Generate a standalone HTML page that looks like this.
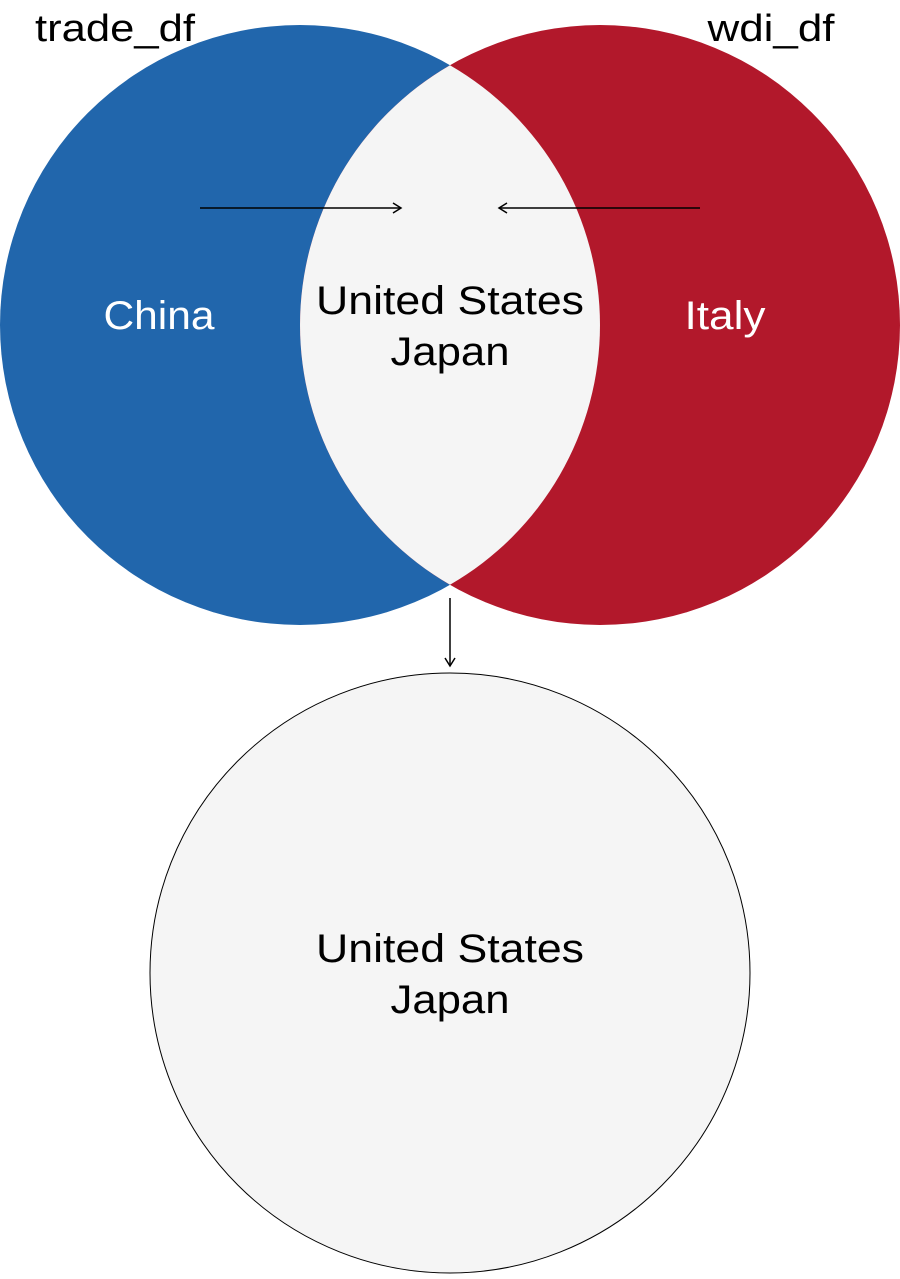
<!DOCTYPE html>
<html><head><meta charset="utf-8"><style>
html,body{margin:0;padding:0;background:#fff;}
svg text{font-family:"Liberation Sans",sans-serif;}
</style></head><body>
<svg width="900" height="1274" viewBox="0 0 900 1274">
<defs>
<marker id="ah" markerWidth="12" markerHeight="12" refX="10" refY="6" orient="auto" markerUnits="userSpaceOnUse">
<path d="M2,1 L10,6 L2,11" fill="none" stroke="#000" stroke-width="1.5"/>
</marker>
</defs>
<circle cx="300" cy="325" r="300" fill="#2166ac"/>
<circle cx="600" cy="325" r="300" fill="#b2182b"/>
<path d="M450,65.2 A300,300 0 0 1 450,584.8 A300,300 0 0 1 450,65.2 Z" fill="#f5f5f5"/>
<text x="115" y="41" font-size="38" text-anchor="middle" textLength="160" lengthAdjust="spacingAndGlyphs" fill="#000">trade_df</text>
<text x="771" y="41" font-size="38" text-anchor="middle" textLength="127" lengthAdjust="spacingAndGlyphs" fill="#000">wdi_df</text>
<line x1="200" y1="208" x2="401" y2="208" stroke="#000" stroke-width="1.5" marker-end="url(#ah)"/>
<line x1="700" y1="208" x2="499" y2="208" stroke="#000" stroke-width="1.5" marker-end="url(#ah)"/>
<text x="159" y="329" font-size="40" text-anchor="middle" textLength="111" lengthAdjust="spacingAndGlyphs" fill="#fff">China</text>
<text x="725" y="329" font-size="40" text-anchor="middle" textLength="81" lengthAdjust="spacingAndGlyphs" fill="#fff">Italy</text>
<text x="450" y="314" font-size="40" text-anchor="middle" textLength="268" lengthAdjust="spacingAndGlyphs" fill="#000">United States</text>
<text x="450" y="365" font-size="40" text-anchor="middle" textLength="119" lengthAdjust="spacingAndGlyphs" fill="#000">Japan</text>
<line x1="450" y1="598" x2="450" y2="666" stroke="#000" stroke-width="1.5" marker-end="url(#ah)"/>
<circle cx="450" cy="973" r="300" fill="#f5f5f5" stroke="#000" stroke-width="1"/>
<text x="450" y="962" font-size="40" text-anchor="middle" textLength="268" lengthAdjust="spacingAndGlyphs" fill="#000">United States</text>
<text x="450" y="1013" font-size="40" text-anchor="middle" textLength="119" lengthAdjust="spacingAndGlyphs" fill="#000">Japan</text>
</svg>
</body></html>
